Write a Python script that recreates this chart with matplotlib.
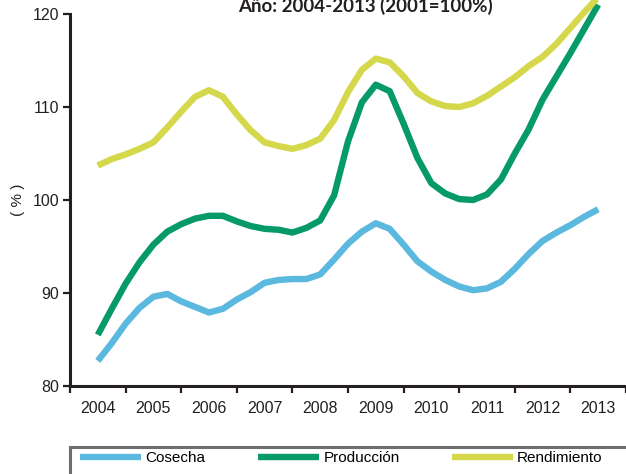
import matplotlib
matplotlib.use("Agg")
import matplotlib.pyplot as plt
from matplotlib.patches import Rectangle
import numpy as np

years = ["2004", "2005", "2006", "2007", "2008", "2009", "2010", "2011", "2012", "2013"]
# quarterly positions (years since 2004)
t = [i * 0.25 for i in range(37)]

cosecha = [82.7, 84.6, 86.7, 88.4, 89.6, 89.9, 89.1, 88.5, 87.9, 88.3, 89.3, 90.1,
           91.1, 91.4, 91.5, 91.5, 92.0, 93.6, 95.3, 96.6, 97.5, 96.9, 95.2, 93.4,
           92.3, 91.4, 90.7, 90.3, 90.5, 91.2, 92.6, 94.2, 95.6, 96.5, 97.3, 98.2, 99.0]
produccion = [85.5, 88.3, 91.0, 93.3, 95.2, 96.6, 97.4, 98.0, 98.3, 98.3, 97.7, 97.2,
              96.9, 96.8, 96.5, 97.0, 97.8, 100.5, 106.3, 110.5, 112.4, 111.7, 108.2, 104.5,
              101.8, 100.7, 100.1, 100.0, 100.6, 102.2, 105.0, 107.6, 110.8, 113.3, 115.8, 118.4, 121.0]
rendimiento = [103.7, 104.4, 104.9, 105.5, 106.2, 107.8, 109.5, 111.1, 111.8, 111.1, 109.2, 107.5,
               106.2, 105.8, 105.5, 105.9, 106.6, 108.6, 111.6, 114.0, 115.2, 114.8, 113.3, 111.5,
               110.6, 110.1, 110.0, 110.4, 111.2, 112.2, 113.2, 114.4, 115.4, 116.8, 118.5, 120.2, 121.8]

labels = ["Cosecha", "Producción", "Rendimiento"]
colors = ["#5BB8DE", "#069A66", "#D4D84A"]
title = "Año: 2004-2013 (2001=100%)"

W, H = 626, 474
fig = plt.figure(figsize=(W / 100, H / 100), dpi=100)
ax = fig.add_axes([70 / W, 88 / H, 1 - 70 / W, (386 - 14) / H])

dark = "#231F20"
series = [cosecha, produccion, rendimiento]
handles = []
for s, c, lab in zip(series, colors, labels):
    ln, = ax.plot(t, s, color=c, lw=4.6, solid_joinstyle="round", solid_capstyle="butt",
                  clip_on=False, label=lab)
    handles.append(ln)

ax.set_xlim(-0.47, 9.5)
ax.set_ylim(80, 120)
ax.set_yticks([80, 90, 100, 110, 120])
ax.set_xticks(range(len(years)))
ax.set_xticklabels(years)
ax.set_xticks([k + 0.5 for k in range(-1, 10)], minor=True)
ax.tick_params(axis="x", which="major", length=0, pad=11, labelsize=11.5, labelcolor=dark)
ax.tick_params(axis="x", which="minor", length=5, width=1.6, color=dark, direction="out")
ax.tick_params(axis="y", length=5, width=1.6, color=dark, labelsize=11.5, labelcolor=dark, pad=3)
for lbl in ax.get_xticklabels() + ax.get_yticklabels():
    lbl.set_family("Liberation Sans")

for sp in ["top", "right"]:
    ax.spines[sp].set_visible(False)
for sp in ["left", "bottom"]:
    ax.spines[sp].set_linewidth(2.2)
    ax.spines[sp].set_color(dark)

fig.text(18 / W, 1 - 200 / H, "( % )", rotation=90, ha="center", va="center",
         fontsize=11, family="Liberation Sans", color=dark)

fig.text(365 / W, 1 - 6 / H, title, ha="center", va="center", fontsize=13.5,
         fontweight="bold", family="Lato", color=dark)

# legend frame
fig.patches.append(Rectangle((70 / W, -0.05), 1.0, (474 - 447) / H + 0.05,
                             transform=fig.transFigure, fill=False,
                             edgecolor="#6D6E71", lw=2.2))
fig.legend(handles=handles, labels=labels, loc="center left",
           bbox_to_anchor=(80 / W, 1 - 458 / H), ncol=3, frameon=False,
           prop={"family": "Liberation Sans", "size": 11},
           handlelength=4.0, handletextpad=0.3, columnspacing=3.4,
           borderpad=0, borderaxespad=0)

fig.savefig("out.png", dpi=100)
